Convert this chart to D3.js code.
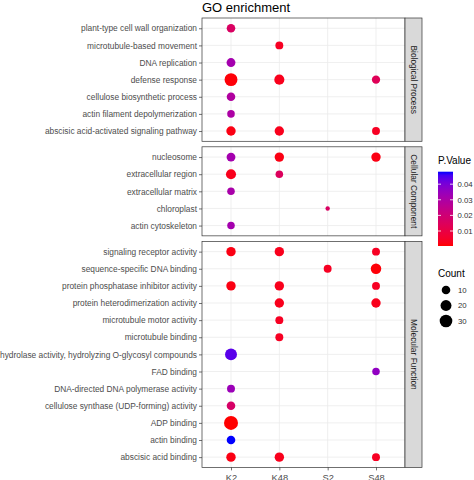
<!DOCTYPE html>
<html>
<head>
<meta charset="utf-8">
<script src="https://cdn.jsdelivr.net/npm/d3@7"></script>
<style>
  html, body { margin: 0; padding: 0; background: #fff; }
  svg { display: block; font-family: "Liberation Sans", Arial, sans-serif; }
</style>
</head>
<body>
<svg id="chart" width="474" height="480"></svg>
<script>
// ---------- data ----------
const groups = ["K2", "K48", "S2", "S48"];
const ontologies = ["Biological Process", "Cellular Component", "Molecular Function"];

const bpTerms = [
  "plant-type cell wall organization",
  "microtubule-based movement",
  "DNA replication",
  "defense response",
  "cellulose biosynthetic process",
  "actin filament depolymerization",
  "abscisic acid-activated signaling pathway"
];
// counts per term, columns = K2, K48, S2, S48 (null = absent)
const bpCount = [
  [10, null, null, null],
  [null, 8, null, null],
  [11, null, null, null],
  [32, 16, null, 9],
  [10, null, null, null],
  [7, null, null, null],
  [13, 13, null, 8]
];
const bpP = [
  [0.016, null, null, null],
  [null, 0.004, null, null],
  [0.032, null, null, null],
  [0.001, 0.003, null, 0.014],
  [0.029, null, null, null],
  [0.030, null, null, null],
  [0.002, 0.003, null, 0.004]
];

const ccTerms = [
  "nucleosome",
  "extracellular region",
  "extracellular matrix",
  "chloroplast",
  "actin cytoskeleton"
];
const ccCount = [
  [11, 13, null, 13],
  [16, 7, null, null],
  [7, null, null, null],
  [null, null, 3, null],
  [7, null, null, null]
];
const ccP = [
  [0.032, 0.002, null, 0.002],
  [0.003, 0.015, null, null],
  [0.031, null, null, null],
  [null, null, 0.016, null],
  [0.032, null, null, null]
];

const mfTerms = [
  "signaling receptor activity",
  "sequence-specific DNA binding",
  "protein phosphatase inhibitor activity",
  "protein heterodimerization activity",
  "microtubule motor activity",
  "microtubule binding",
  "hydrolase activity, hydrolyzing O-glycosyl compounds",
  "FAD binding",
  "DNA-directed DNA polymerase activity",
  "cellulose synthase (UDP-forming) activity",
  "ADP binding",
  "actin binding",
  "abscisic acid binding"
];
const mfCount = [
  [13, 13, null, 8],
  [null, null, 8, 18],
  [13, 13, null, 8],
  [null, 13, null, 13],
  [null, 8, null, null],
  [null, 8, null, null],
  [26, null, null, null],
  [null, null, null, 7],
  [8, null, null, null],
  [10, null, null, null],
  [40, null, null, null],
  [10, null, null, null],
  [13, 13, null, 8]
];
const mfP = [
  [0.002, 0.003, null, 0.004],
  [null, null, 0.004, 0.001],
  [0.002, 0.003, null, 0.004],
  [null, 0.003, null, 0.003],
  [null, 0.004, null, null],
  [null, 0.004, null, null],
  [0.044, null, null, null],
  [null, null, null, 0.036],
  [0.034, null, null, null],
  [0.017, null, null, null],
  [0.0004, null, null, null],
  [0.048, null, null, null],
  [0.002, 0.003, null, 0.004]
];

const colorTicks = [0.01, 0.02, 0.03, 0.04];
const sizeBreaks = [10, 20, 30];
const titleText = "GO enrichment";

// ---------- build ----------
const facets = [
  { name: ontologies[0], terms: bpTerms, count: bpCount, p: bpP },
  { name: ontologies[1], terms: ccTerms, count: ccCount, p: ccP },
  { name: ontologies[2], terms: mfTerms, count: mfCount, p: mfP }
];

const allPoints = [];
facets.forEach(f => {
  f.points = [];
  f.terms.forEach((t, i) => {
    groups.forEach((g, j) => {
      const c = f.count[i][j];
      if (c != null) {
        const pt = { term: t, group: g, count: c, p: f.p[i][j] };
        f.points.push(pt);
        allPoints.push(pt);
      }
    });
  });
});

const svg = d3.select("#chart");

const panelLeft = 202, panelRight = 405;
const panelTop = 18, panelBottom = 467.4, spacing = 5.5;
const stripW = 17;

const x = d3.scalePoint().domain(groups).range([panelLeft, panelRight]).padding(0.6);

const units = facets.map(f => f.terms.length - 1 + 1.2);
const unitPx = (panelBottom - panelTop - spacing * (facets.length - 1)) / d3.sum(units);
let yCursor = panelTop;
facets.forEach((f, k) => {
  f.top = yCursor;
  f.bottom = yCursor + units[k] * unitPx;
  yCursor = f.bottom + spacing;
  f.y = d3.scalePoint().domain(f.terms).range([f.top, f.bottom]).padding(0.6);
});

const pExt = d3.extent(allPoints, d => d.p);
const color = d3.scaleLinear().domain(pExt).range(["#FF0000", "#0000FF"]).interpolate(d3.interpolateLab);

const cExt = [3, 40];
const sizeNorm = d3.scaleLinear().domain(cExt).range([0, 1]).clamp(true);
const radius = d3.scaleSqrt().domain([0, 1]).range([2.2, 7]);
const r = c => radius(sizeNorm(c));

// title
svg.append("text")
  .attr("x", panelLeft).attr("y", 11.5)
  .attr("font-size", 13).attr("fill", "#000")
  .text(titleText);

facets.forEach((f, k) => {
  const g = svg.append("g");
  g.append("rect")
    .attr("x", panelLeft).attr("y", f.top)
    .attr("width", panelRight - panelLeft).attr("height", f.bottom - f.top)
    .attr("fill", "#fff");
  // grid
  g.selectAll(".vg").data(groups).join("line")
    .attr("x1", d => x(d)).attr("x2", d => x(d))
    .attr("y1", f.top).attr("y2", f.bottom)
    .attr("stroke", "#EBEBEB").attr("stroke-width", 0.8);
  g.selectAll(".hg").data(f.terms).join("line")
    .attr("x1", panelLeft).attr("x2", panelRight)
    .attr("y1", d => f.y(d)).attr("y2", d => f.y(d))
    .attr("stroke", "#EBEBEB").attr("stroke-width", 0.8);
  // points
  g.selectAll("circle").data(f.points).join("circle")
    .attr("cx", d => x(d.group)).attr("cy", d => f.y(d.term))
    .attr("r", d => r(d.count))
    .attr("fill", d => color(d.p));
  // border
  g.append("rect")
    .attr("x", panelLeft).attr("y", f.top)
    .attr("width", panelRight - panelLeft).attr("height", f.bottom - f.top)
    .attr("fill", "none").attr("stroke", "#333").attr("stroke-width", 0.7);
  // y axis
  const yAxis = d3.axisLeft(f.y).tickSize(3).tickPadding(2);
  const ya = svg.append("g").attr("transform", `translate(${panelLeft},0)`).call(yAxis);
  ya.select(".domain").remove();
  ya.selectAll(".tick line").attr("stroke", "#333").attr("stroke-width", 0.7);
  ya.selectAll(".tick text").attr("fill", "#4D4D4D").attr("font-size", 8.35)
    .attr("font-family", "Liberation Sans, Arial, sans-serif");
  // strip
  svg.append("rect")
    .attr("x", panelRight).attr("y", f.top)
    .attr("width", stripW).attr("height", f.bottom - f.top)
    .attr("fill", "#D9D9D9").attr("stroke", "#333").attr("stroke-width", 0.7);
  svg.append("text")
    .attr("transform", `translate(${panelRight + stripW / 2},${(f.top + f.bottom) / 2}) rotate(90)`)
    .attr("text-anchor", "middle").attr("dy", "0.35em")
    .attr("font-size", 8.4).attr("fill", "#1A1A1A")
    .text(f.name);
});

// x axis
const lastF = facets[facets.length - 1];
const xa = svg.append("g").attr("transform", `translate(0,${lastF.bottom})`)
  .call(d3.axisBottom(x).tickSize(3).tickPadding(4));
xa.select(".domain").remove();
xa.selectAll(".tick line").attr("stroke", "#333").attr("stroke-width", 0.7);
xa.selectAll(".tick text").attr("fill", "#4D4D4D").attr("font-size", 9.3)
  .attr("font-family", "Liberation Sans, Arial, sans-serif");

// colour legend
const legX = 438;
svg.append("text").attr("x", legX).attr("y", 163.5)
  .attr("font-size", 10).attr("fill", "#000").text("P.Value");
const cbTop = 171.7, cbBottom = 246, cbW = 15;
const cbY = d3.scaleLinear().domain(pExt).range([cbBottom, cbTop]);
const defs = svg.append("defs");
const grad = defs.append("linearGradient").attr("id", "pgrad")
  .attr("x1", 0).attr("y1", 1).attr("x2", 0).attr("y2", 0);
d3.range(0, 1.0001, 0.05).forEach(t => {
  grad.append("stop").attr("offset", t)
    .attr("stop-color", color(pExt[0] + t * (pExt[1] - pExt[0])));
});
svg.append("rect").attr("x", legX).attr("y", cbTop)
  .attr("width", cbW).attr("height", cbBottom - cbTop)
  .attr("fill", "url(#pgrad)");
colorTicks.forEach(t => {
  const yy = cbY(t);
  svg.append("line").attr("x1", legX).attr("x2", legX + 3).attr("y1", yy).attr("y2", yy)
    .attr("stroke", "#fff").attr("stroke-width", 0.8);
  svg.append("line").attr("x1", legX + cbW - 3).attr("x2", legX + cbW).attr("y1", yy).attr("y2", yy)
    .attr("stroke", "#fff").attr("stroke-width", 0.8);
  svg.append("text").attr("x", legX + cbW + 4.5).attr("y", yy).attr("dy", "0.35em")
    .attr("font-size", 7.8).attr("fill", "#333").text(t.toFixed(2));
});

// size legend
svg.append("text").attr("x", legX).attr("y", 277)
  .attr("font-size", 10).attr("fill", "#000").text("Count");
const sizeY = d3.scalePoint().domain(sizeBreaks).range([290, 321]);
sizeBreaks.forEach(b => {
  svg.append("circle").attr("cx", 446).attr("cy", sizeY(b)).attr("r", r(b)).attr("fill", "#000");
  svg.append("text").attr("x", 458).attr("y", sizeY(b)).attr("dy", "0.35em")
    .attr("font-size", 7.8).attr("fill", "#333").text(b);
});
</script>
</body>
</html>
